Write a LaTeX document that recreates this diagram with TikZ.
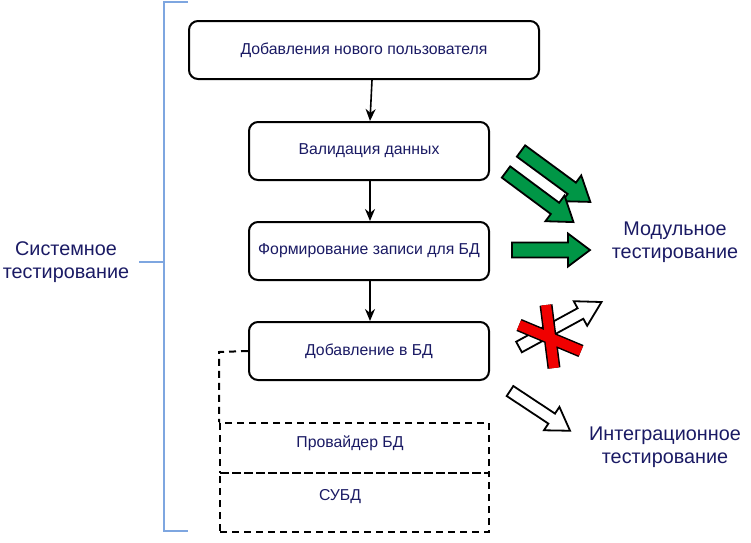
\documentclass[tikz,border=0pt]{standalone}
\usepackage{fontspec}
\setmainfont{Liberation Sans}
\usetikzlibrary{arrows.meta}
\definecolor{txt}{RGB}{26,26,100}
\definecolor{brk}{RGB}{126,166,224}
\definecolor{grn}{RGB}{0,150,70}
\definecolor{xred}{RGB}{240,0,0}
\tikzset{
  boxfont/.style={font=\fontsize{15.8}{18}\selectfont},
  stepbox/.style={draw=black, line width=2pt, rounded corners=9pt, fill=white, text=txt, boxfont, inner sep=0pt},
  dbox/.style={draw=black, line width=2pt, dash pattern=on 7pt off 5pt, text=txt, boxfont, inner sep=0pt},
  conn/.style={draw=black, line width=1.6pt, -{Stealth[length=12pt,width=10pt]}},
  lbl/.style={text=txt, font=\fontsize{19.8}{23}\selectfont, align=center},
  bracket/.style={draw=brk, line width=2.2pt},
  barr/.style={draw=black, line width=1.8pt, line join=miter},
}
% #1 style, #2 start, #3 angle, #4 length, #5 shaft half width, #6 head half width, #7 head length
\newcommand{\blockarr}[7]{%
  \begin{scope}[shift={#2}, rotate=#3]
    \draw[#1] (0,-#5) -- (#4-#7,-#5) -- (#4-#7,-#6) -- (#4,0) -- (#4-#7,#6) -- (#4-#7,#5) -- (0,#5) -- cycle;
  \end{scope}}
\begin{document}
\begin{tikzpicture}[x=1pt,y=-1pt]
\useasboundingbox (0,0) rectangle (751,542);
% boxes
\node[stepbox, minimum width=350pt, minimum height=58pt] (b1) at (364,50) {Добавления нового пользователя};
\node[stepbox, minimum width=240pt, minimum height=58pt] (b2) at (369,151) {Валидация данных};
\node[stepbox, minimum width=240pt, minimum height=58pt] (b3) at (369,251) {Формирование записи для БД};
% dashed db parts
\node[dbox, minimum width=269pt, minimum height=50pt, anchor=north west] (prov) at (219,422) {};
\node[text=txt, boxfont] (provt) at (350,443) {Провайдер БД};
\node[dbox, minimum width=269pt, minimum height=59pt, anchor=north west] (subd) at (219,472) {};
\node[text=txt, boxfont] (subdt) at (340,497) {СУБД};
\coordinate (dc) at (219,352);
\node[stepbox, minimum width=240pt, minimum height=58pt] (b4) at (369,351) {Добавление в БД};
\draw[line width=2pt, dash pattern=on 7pt off 5pt] (b4.west) -- (dc) -- (prov.north west);
% connectors
\draw[conn] ([xshift=8pt]b1.south) -- ([xshift=1pt]b2.north);
\draw[conn] ([xshift=1pt]b2.south) -- ([xshift=1pt]b3.north);
\draw[conn] ([xshift=1pt]b3.south) -- ([xshift=1pt]b4.north);
% bracket
\node[lbl] (sys) at (66,262) {Системное\\тестирование};
\draw[bracket] (188,2) -- (164,2) -- (164,531) -- (188,531);
\draw[bracket] (164,262) -- (139,262);
% right labels
\node[lbl] (mod) at (675,242) {Модульное\\тестирование};
\node[lbl] (integ) at (665,447) {Интеграционное\\тестирование};
% green arrows
\blockarr{barr, fill=grn}{(521,151)}{-36.3}{86}{7}{16}{23}
\blockarr{barr, fill=grn}{(506,172)}{-36.6}{84}{7}{16}{23}
\blockarr{barr, fill=grn}{(512,250)}{0}{78}{7.5}{16.5}{22}
% white arrows
\blockarr{barr, fill=white}{(519,347)}{28.6}{94}{6}{14}{24}
\blockarr{barr, fill=white}{(510,391)}{-33.5}{72}{6}{14}{22}
% red X
\coordinate (x1a) at (519,325); \coordinate (x1b) at (581,351);
\coordinate (x2a) at (546,305); \coordinate (x2b) at (554,368);
\draw[black, line width=13pt] (x1a) -- (x1b) (x2a) -- (x2b);
\draw[xred, line width=10pt] (x1a) -- (x1b) (x2a) -- (x2b);
\end{tikzpicture}
\end{document}
